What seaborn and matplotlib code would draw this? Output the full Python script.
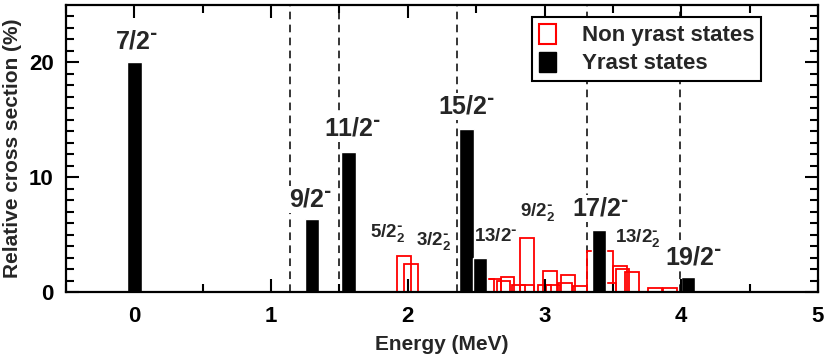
import matplotlib
matplotlib.use("Agg")
import matplotlib.pyplot as plt
from matplotlib.patches import Patch
import seaborn as sns

# yrast states (filled black bars)
yrast_energy = [0.0, 1.30, 1.565, 2.43, 2.53, 3.40, 4.05]
yrast_xs = [20.0, 6.4, 12.2, 14.2, 3.0, 5.4, 1.3]

# non yrast states (open red bars)
nonyrast_energy = [1.97, 2.025, 2.58, 2.63, 2.73, 2.70, 2.81, 2.87, 2.87, 3.00,
                   3.04, 3.06, 3.17, 3.15, 3.26, 3.36, 3.45, 3.47, 3.55, 3.57,
                   3.64, 3.81, 3.92]
nonyrast_xs = [3.1, 2.4, 1.1, 1.16, 1.3, 1.0, 0.6, 4.7, 0.6, 0.6,
               1.8, 0.65, 1.5, 0.75, 0.55, 3.6, 3.6, 0.8, 2.3, 1.97,
               1.74, 0.35, 0.33]

# dashed guide lines
dash_x = [1.135, 1.50, 2.36, 3.31, 3.99]

# level labels: (text, x, y)
big_labels = [("7/2$^{\\text{-}}$", 0.02, 21.8), ("9/2$^{\\text{-}}$", 1.29, 8.1),
              ("11/2$^{\\text{-}}$", 1.60, 14.2), ("15/2$^{\\text{-}}$", 2.43, 16.2),
              ("17/2$^{\\text{-}}$", 3.41, 7.3), ("19/2$^{\\text{-}}$", 4.09, 3.0)]
small_labels = [("5/2$_2^{\\text{-}}$", 1.85, 5.1), ("3/2$_2^{\\text{-}}$", 2.19, 4.4),
                ("13/2$^{\\text{-}}$", 2.64, 4.8), ("9/2$_2^{\\text{-}}$", 2.95, 7.0),
                ("13/2$_2^{\\text{-}}$", 3.68, 4.7)]

x_major = [0, 1, 2, 3, 4, 5]
x_minor = [-0.5, 0.5, 1.5, 2.5, 3.5, 4.5]
y_major = [0, 10, 20]
y_minor = [v for v in range(1, 25) if v % 10 != 0]

sns.set_style("ticks")
plt.rcParams["font.family"] = ["Liberation Sans", "DejaVu Sans"]
plt.rcParams["font.weight"] = "bold"
plt.rcParams["mathtext.default"] = "regular"

fig = plt.figure(figsize=(8.31, 3.64), dpi=100)
ax = fig.add_axes([66 / 831, 1 - 292 / 364, 752 / 831, 287 / 364])

for x in dash_x:
    ax.axvline(x, color="black", lw=1.1, ls=(0, (5, 3.5)), zorder=1)

ax.bar(nonyrast_energy, nonyrast_xs, width=0.1, facecolor="none",
       edgecolor="red", linewidth=1.3, zorder=2)
ax.bar(yrast_energy, yrast_xs, width=0.105, color="black", zorder=3)

for txt, x, y in big_labels:
    ax.text(x, y, txt, fontsize=18, fontweight="bold", ha="center", va="center",
            zorder=4, bbox=dict(facecolor="white", edgecolor="none", pad=1))
for txt, x, y in small_labels:
    ax.text(x, y, txt, fontsize=13.5, fontweight="bold", ha="center", va="center",
            zorder=4)

ax.set_xlim(-0.5, 5)
ax.set_ylim(0, 25)
ax.set_xticks(x_major)
ax.set_yticks(y_major)
ax.tick_params(which="both", length=0, labelsize=16, colors="black")
ax.tick_params(axis="x", pad=10)
ax.tick_params(axis="y", pad=9)
for lab in ax.get_xticklabels() + ax.get_yticklabels():
    lab.set_fontweight("bold")

# inward tick marks on all four sides
xt = ax.get_xaxis_transform()
yt = ax.get_yaxis_transform()
maj_x, min_x = 13 / 287, 8 / 287
maj_y, min_y = 13 / 752, 8 / 752
tick_kw = dict(colors="black", linewidth=1.5, zorder=6, clip_on=False)
ax.vlines(x_major, 0, maj_x, transform=xt, **tick_kw)
ax.vlines(x_major, 1 - maj_x, 1, transform=xt, **tick_kw)
ax.vlines(x_minor, 0, min_x, transform=xt, **tick_kw)
ax.vlines(x_minor, 1 - min_x, 1, transform=xt, **tick_kw)
ax.hlines(y_major, 0, maj_y, transform=yt, **tick_kw)
ax.hlines(y_major, 1 - maj_y, 1, transform=yt, **tick_kw)
ax.hlines(y_minor, 0, min_y, transform=yt, **tick_kw)
ax.hlines(y_minor, 1 - min_y, 1, transform=yt, **tick_kw)

for s in ax.spines.values():
    s.set_linewidth(1.6)
    s.set_color("black")
    s.set_zorder(6)

ax.set_xlabel("Energy (MeV)", fontsize=15, fontweight="bold", labelpad=6)
ax.set_ylabel("Relative cross section (%)", fontsize=15, fontweight="bold",
              labelpad=5)

handles = [Patch(facecolor="white", edgecolor="red", linewidth=1.5),
           Patch(facecolor="black", edgecolor="black")]
leg = ax.legend(handles, ["Non yrast states", "Yrast states"],
                loc="upper left", bbox_to_anchor=(0.62, 0.958),
                borderaxespad=0, fontsize=16, handlelength=0.75,
                handleheight=1.0, handletextpad=1.2, labelspacing=0.25,
                borderpad=0.3, fancybox=False, framealpha=1)
leg.get_frame().set_edgecolor("black")
leg.get_frame().set_linewidth(1.5)
leg.set_zorder(7)
for t in leg.get_texts():
    t.set_fontweight("bold")

fig.savefig("out.png", dpi=100)
